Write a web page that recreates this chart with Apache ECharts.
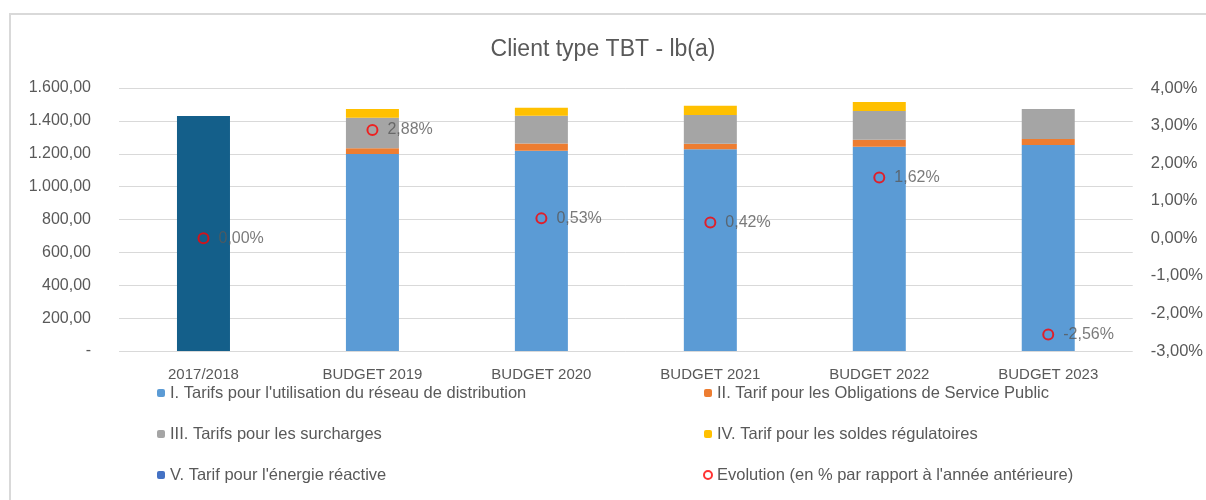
<!DOCTYPE html>
<html lang="fr">
<head>
    <meta charset="UTF-8">
    <title>Client type TBT - lb(a)</title>
    <script src="https://cdn.jsdelivr.net/npm/echarts@6/dist/echarts.min.js"></script>
    <style>
        html, body { margin: 0; padding: 0; background: #fff; }
        #chart { width: 1206px; height: 500px; }
    </style>
</head>
<body>
<div id="chart"></div>
<script type="text/javascript">
    // donnees
    var categories = ['2017/2018', 'BUDGET 2019', 'BUDGET 2020', 'BUDGET 2021', 'BUDGET 2022', 'BUDGET 2023'];
    var total2017 = [1430, null, null, null, null, null];
    var tarifReseau = [null, 1198, 1218, 1227, 1243, 1253];
    var tarifOSP = [null, 35, 45, 34, 42, 37];
    var tarifSurcharges = [null, 186, 168, 174, 175, 182];
    var tarifSoldes = [null, 53, 49, 57, 55, null];
    var tarifReactive = [null, null, null, null, null, null];
    var evolution = [0.00, 2.88, 0.53, 0.42, 1.62, -2.56];

    var names = [
        "I. Tarifs pour l'utilisation du réseau de distribution",
        "II. Tarif pour les Obligations de Service Public",
        "III. Tarifs pour les surcharges",
        "IV. Tarif pour les soldes régulatoires",
        "V. Tarif pour l'énergie réactive",
        "Evolution (en % par rapport à l'année antérieure)"
    ];

    var grey = '#595959';
    var font = 'Liberation Sans';

    function fmtNum(v) {
        if (v === 0) return '-';
        var s = v.toFixed(2).split('.');
        return s[0].replace(/\B(?=(\d{3})+(?!\d))/g, '.') + ',' + s[1];
    }
    function fmtPct(v) {
        return v.toFixed(2).replace('.', ',') + '%';
    }

    function barSerie(name, data, color) {
        return {
            name: name,
            type: 'bar',
            stack: 'total',
            barWidth: 53,
            data: data,
            itemStyle: { color: color }
        };
    }

    var legendText = { color: grey, fontSize: 16.5, lineHeight: 18, fontFamily: font };

    var myChart = echarts.init(document.getElementById('chart'));
    var option = {
        backgroundColor: '#fff',
        animation: false,
        textStyle: { fontFamily: font },
        graphic: [{
            type: 'rect',
            shape: { x: 10, y: 14, width: 1220, height: 520 },
            style: { fill: 'none', stroke: '#d9d9d9', lineWidth: 2 },
            silent: true
        }],
        title: {
            text: 'Client type TBT - lb(a)',
            left: 'center',
            top: 33,
            textStyle: { color: grey, fontSize: 23, fontWeight: 'normal', fontFamily: font }
        },
        legend: [{
            orient: 'vertical',
            left: 152,
            top: 379,
            itemWidth: 8,
            itemHeight: 8,
            itemGap: 23,
            textStyle: legendText,
            data: [names[0], names[2], names[4]]
        }, {
            orient: 'vertical',
            left: 698,
            top: 379,
            itemWidth: 8,
            itemHeight: 8,
            itemGap: 23,
            textStyle: legendText,
            data: [names[1], names[3], names[5]]
        }],
        grid: { left: 119, right: 73, top: 88, bottom: 149 },
        xAxis: {
            type: 'category',
            data: categories,
            axisLine: { show: false },
            axisTick: { show: false },
            axisLabel: { color: grey, fontSize: 15, margin: 16, fontFamily: font }
        },
        yAxis: [{
            type: 'value',
            min: 0,
            max: 1600,
            interval: 200,
            axisLabel: { color: grey, fontSize: 16, margin: 28, formatter: fmtNum, fontFamily: font },
            splitLine: { lineStyle: { color: '#d9d9d9', width: 1 } }
        }, {
            type: 'value',
            min: -3,
            max: 4,
            interval: 1,
            position: 'right',
            axisLabel: { color: grey, fontSize: 16.5, margin: 18, formatter: fmtPct, fontFamily: font },
            splitLine: { show: false }
        }],
        series: [
            {
                name: '2017/2018',
                type: 'bar',
                stack: 'total',
                barWidth: 53,
                data: total2017,
                itemStyle: { color: '#145F8A' }
            },
            barSerie(names[0], tarifReseau, '#5B9BD5'),
            barSerie(names[1], tarifOSP, '#ED7D31'),
            barSerie(names[2], tarifSurcharges, '#A5A5A5'),
            barSerie(names[3], tarifSoldes, '#FFC000'),
            barSerie(names[4], tarifReactive, '#4472C4'),
            {
                name: names[5],
                type: 'scatter',
                yAxisIndex: 1,
                symbol: 'circle',
                symbolSize: 10,
                z: 5,
                itemStyle: { color: 'rgba(0,0,0,0)', borderColor: '#FF0000', borderWidth: 2 },
                label: {
                    show: true,
                    position: 'right',
                    distance: 9,
                    color: grey,
                    fontSize: 16,
                    fontFamily: font,
                    formatter: function (p) { return fmtPct(p.value); }
                },
                data: evolution
            }
        ]
    };
    myChart.setOption(option);
</script>
</body>
</html>
